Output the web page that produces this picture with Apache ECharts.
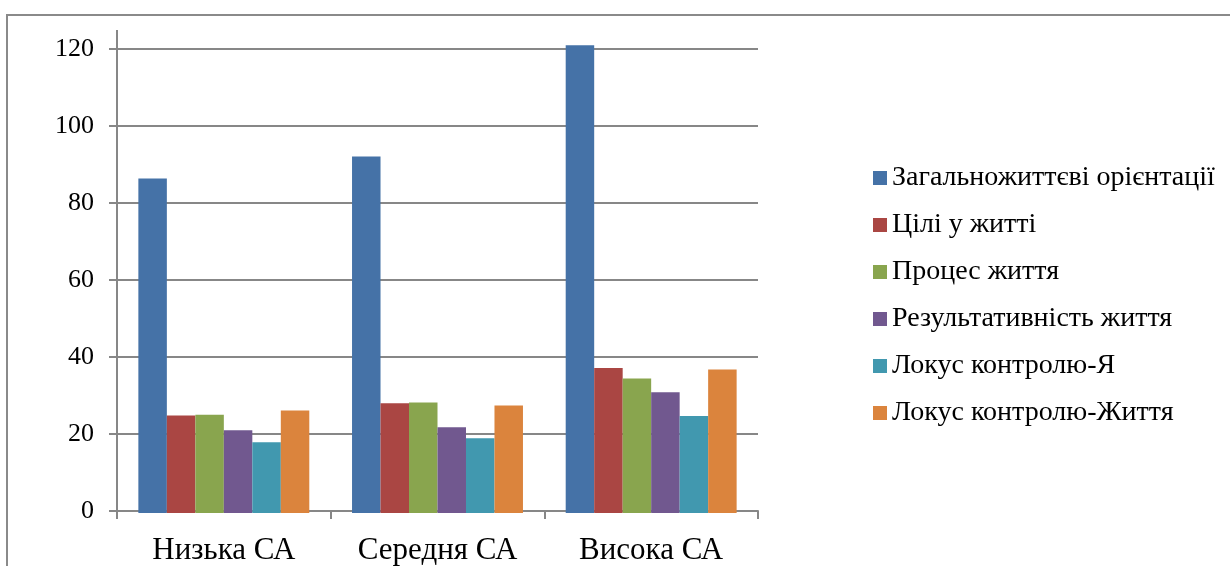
<!DOCTYPE html>
<html>
<head>
<meta charset="utf-8">
<script src="https://cdn.jsdelivr.net/npm/echarts@6/dist/echarts.min.js"></script>
<style>
  html, body { margin: 0; padding: 0; background: #fff; }
  #chart { width: 1230px; height: 566px; }
</style>
</head>
<body>
<div id="chart"></div>
<script>
// Groups by level of self-actualization (СА)
const categories = ['Низька СА', 'Середня СА', 'Висока СА'];

// Scale names (legend order)
const seriesNames = [
  'Загальножиттєві орієнтації',
  'Цілі у житті',
  'Процес життя',
  'Результативність життя',
  'Локус контролю-Я',
  'Локус контролю-Життя'
];

// Mean scores per group, one array per scale
const general      = [86.5, 92.2, 121.0];
const goals        = [25.2, 28.4, 37.5];
const process      = [25.4, 28.6, 34.8];
const effective    = [21.4, 22.2, 31.2];
const locusSelf    = [18.3, 19.3, 25.1];
const locusLife    = [26.5, 27.8, 37.1];

const yTicks = [0, 20, 40, 60, 80, 100, 120];

const seriesData = [general, goals, process, effective, locusSelf, locusLife];
const colors = ['#4572A7', '#AA4643', '#89A54E', '#71588F', '#4198AF', '#DB843D'];

const serif = 'serif';
const gridColor = '#878787';

const yMin = yTicks[0];
const yMax = yTicks[yTicks.length - 1];
const yStep = yTicks[1] - yTicks[0];
// headroom of the bar layer above the top gridline, in value units
const barHeadroom = 5;

const chart = echarts.init(document.getElementById('chart'));

chart.setOption({
  animation: false,
  backgroundColor: '#ffffff',
  color: colors,
  grid: [
    // frame grid: axis line, ticks, gridlines, captions
    { left: 117, right: 472, top: 49, bottom: 53, containLabel: false },
    // bar layer, same scale, a little taller so the top bar may pass 120
    { left: 117, right: 472, top: 29.67, bottom: 53, containLabel: false }
  ],
  xAxis: [
    {
      gridIndex: 0,
      type: 'category',
      data: categories,
      axisLine: { lineStyle: { color: gridColor, width: 2 } },
      axisTick: { show: true, length: 8, lineStyle: { color: gridColor, width: 2 } },
      axisLabel: { interval: 0, color: '#000', fontFamily: serif, fontSize: 31, margin: 24 },
      splitLine: { show: false }
    },
    {
      gridIndex: 1,
      type: 'category',
      data: categories,
      show: false
    }
  ],
  yAxis: [
    {
      gridIndex: 0,
      type: 'value',
      min: yMin,
      max: yMax,
      interval: yStep,
      axisLine: { show: true, lineStyle: { color: gridColor, width: 2 } },
      axisTick: { show: true, length: 8, lineStyle: { color: gridColor, width: 2 } },
      axisLabel: { color: '#000', fontFamily: serif, fontSize: 26, margin: 23 },
      splitLine: { show: true, lineStyle: { color: gridColor, width: 2 } }
    },
    {
      gridIndex: 1,
      type: 'value',
      min: yMin,
      max: yMax + barHeadroom,
      show: false,
      splitLine: { show: false }
    }
  ],
  legend: {
    orient: 'vertical',
    left: 873,
    top: 162,
    padding: 0,
    icon: 'rect',
    itemWidth: 14,
    itemHeight: 14,
    itemGap: 15,
    itemStyle: { borderWidth: 0 },
    textStyle: { color: '#000', fontFamily: serif, fontSize: 28, lineHeight: 32 },
    data: seriesNames
  },
  series: seriesNames.map((name, i) => ({
    name: name,
    type: 'bar',
    xAxisIndex: 1,
    yAxisIndex: 1,
    data: seriesData[i],
    barGap: '0%',
    barCategoryGap: '20%'
  })),
  graphic: [
    // outer chart frame
    {
      type: 'rect',
      shape: { x: 7, y: 15, width: 1400, height: 800 },
      style: { fill: 'none', stroke: '#8a8a8a', lineWidth: 2 },
      silent: true
    },
    // value axis line continues above the top gridline
    {
      type: 'line',
      shape: { x1: 117, y1: 30, x2: 117, y2: 49 },
      style: { stroke: gridColor, lineWidth: 2 },
      silent: true
    }
  ]
});
</script>
</body>
</html>
